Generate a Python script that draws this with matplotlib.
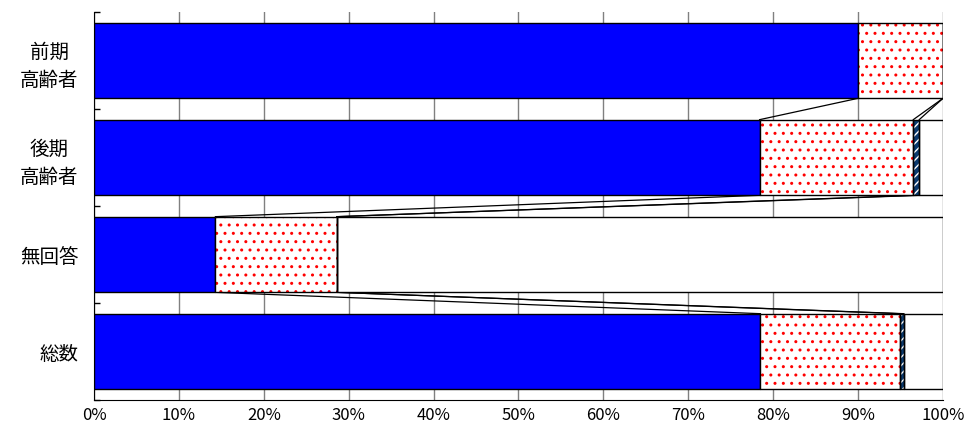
import matplotlib
matplotlib.use('Agg')
import matplotlib.pyplot as plt
import numpy as np

plt.rcParams['font.family'] = ['Noto Sans CJK JP', 'DejaVu Sans']
plt.rcParams['hatch.linewidth'] = 1.0

# categories top -> bottom
categories = ['前期\n高齢者', '後期\n高齢者', '無回答', '総数']
# percentages
seg_blue = [90.0, 78.4, 14.3, 78.5]
seg_dots = [10.0, 18.1, 14.3, 16.4]
seg_hatch = [0.0, 0.7, 0.0, 0.5]
xticks = [0, 10, 20, 30, 40, 50, 60, 70, 80, 90, 100]
xtick_labels = ['0%', '10%', '20%', '30%', '40%', '50%', '60%', '70%', '80%', '90%', '100%']


def main():
	blue = np.array(seg_blue)
	dots = np.array(seg_dots)
	hatch = np.array(seg_hatch)
	rest = 100 - blue - dots - hatch

	fig = plt.figure(figsize=(9.65, 4.34), dpi=100)
	ax = fig.add_axes([0.0974, 0.0783, 0.8798, 0.8941])

	n = len(categories)
	y = np.arange(n)[::-1].astype(float)
	h = 0.78

	left = np.zeros(n)
	ax.barh(y, blue, h, left=left, color='#0000ff', edgecolor='black', linewidth=1, zorder=3)
	left = left + blue
	ax.barh(y, dots, h, left=left, color='white', edgecolor='#ff0000', hatch='..', linewidth=0, zorder=3)
	ax.barh(y, dots, h, left=left, fill=False, edgecolor='black', linewidth=1, zorder=4)
	left = left + dots
	# hatched segment (navy / white stripes)
	ax.barh(y, hatch, h, left=left, color='#0a3a6e', edgecolor='white', hatch='////', linewidth=0, zorder=3)
	ax.barh(y, hatch, h, left=left, fill=False, edgecolor='black', linewidth=1, zorder=4)
	left = left + hatch
	ax.barh(y, rest, h, left=left, color='white', edgecolor='black', linewidth=1, zorder=3)

	# series lines between neighbouring bars
	ends = [np.cumsum([blue[i], dots[i], hatch[i]]) for i in range(n)]
	for i in range(n - 1):
		for k in range(3):
			ax.plot([ends[i][k], ends[i + 1][k]], [y[i] - h / 2, y[i + 1] + h / 2],
				color='black', linewidth=0.9, zorder=2)

	ax.set_xlim(0, 100)
	ax.set_ylim(-0.5, n - 0.5)
	ax.set_xticks(xticks)
	ax.set_xticklabels(xtick_labels, fontsize=12)
	ax.tick_params(axis='x', length=0, pad=5)
	ax.xaxis.grid(True, color='#808080', linewidth=1, zorder=0)
	ax.set_axisbelow(True)

	ax.set_yticks(y)
	ax.set_yticklabels(categories, fontsize=14, linespacing=1.45, multialignment='center')
	ax.tick_params(axis='y', which='major', length=0, pad=11)
	ax.set_yticks(np.arange(n + 1) - 0.5, minor=True)
	ax.tick_params(axis='y', which='minor', direction='in', length=4.5, width=1, color='black')

	ax.spines['top'].set_visible(False)
	ax.spines['right'].set_visible(False)
	ax.spines['left'].set_color('black')
	ax.spines['bottom'].set_color('black')

	fig.savefig('out.png', dpi=100)


if __name__ == "__main__":
	main()
